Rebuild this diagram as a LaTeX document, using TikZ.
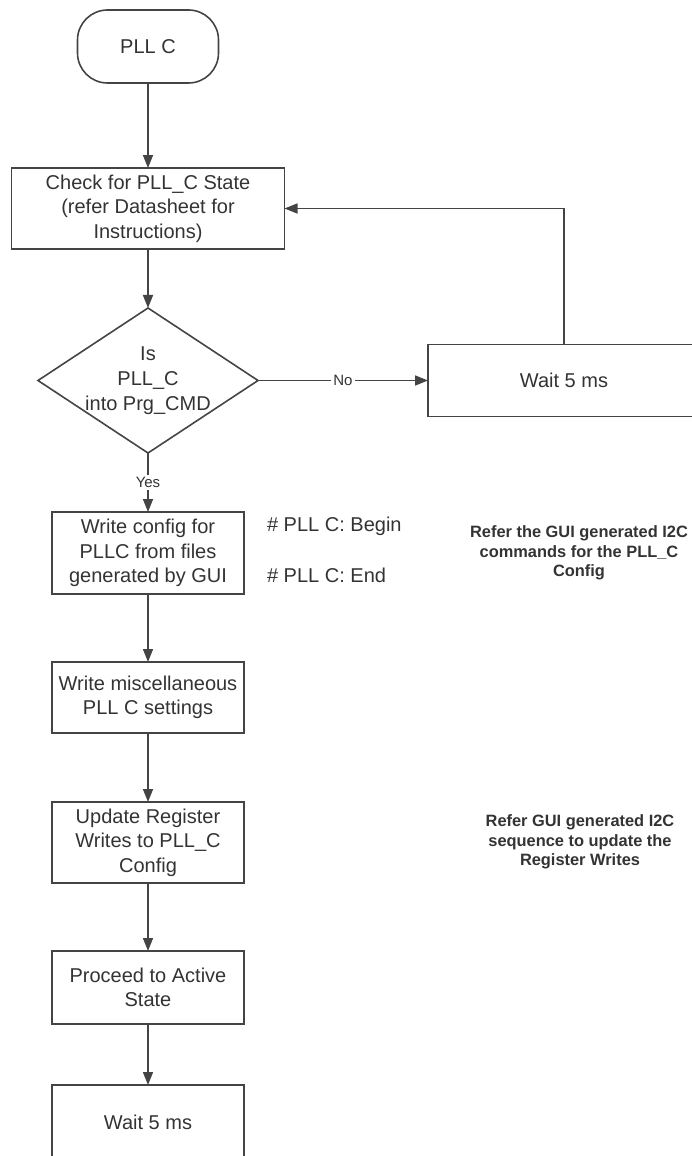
\documentclass[tikz,border=0pt]{standalone}
\usepackage{fontspec}
\setmainfont{Liberation Sans}
\usetikzlibrary{arrows.meta,positioning,shapes.geometric}
\definecolor{LineGray}{RGB}{68,68,68}
\definecolor{TextGray}{RGB}{51,51,51}

\begin{document}
\begin{tikzpicture}[x=0.5pt,y=-0.5pt,>={Triangle[length=6.5pt,width=5pt]},
  every node/.style={text=TextGray},
  flow/.style={draw=LineGray,line width=0.8pt,align=center,font=\fontsize{10}{12.3}\selectfont,inner sep=0pt,outer sep=0pt},
  procbox/.style={flow,minimum width=96pt},
  link/.style={->,draw=LineGray,line width=0.8pt},
  tag/.style={font=\fontsize{7.5}{9}\selectfont,fill=white,inner sep=1pt},
  remark/.style={align=center,font=\fontsize{8.2}{9.75}\selectfont\bfseries}]
  \useasboundingbox (0,0) rectangle (691,1156);
  \node[flow,rounded corners=15pt,minimum width=70.5pt,minimum height=36.5pt] (start) at (148,46.5) {PLL C};
  \node[flow,minimum width=136.5pt,minimum height=40.5pt,below=42.5pt of start] (check) {Check for PLL\_C State\\(refer Datasheet for\\Instructions)};
  \node[flow,diamond,minimum width=110pt,minimum height=72.5pt,below=29.5pt of check] (isc) {};
  \node[align=center,font=\fontsize{10}{12.5}\selectfont] (isctext) at (isc) {Is\\PLL\_C\\into Prg\_CMD};
  \node[flow,minimum width=136pt,minimum height=36pt,right=85pt of isc] (wait1) {Wait 5 ms};
  \node[procbox,minimum height=41pt,below=29.5pt of isc] (write) {Write config for\\PLLC from files\\generated by GUI};
  \node[procbox,minimum height=35.5pt,below=34pt of write] (misc) {Write miscellaneous\\PLL C settings};
  \node[procbox,minimum height=40.5pt,below=34.5pt of misc] (update) {Update Register\\Writes to PLL\_C\\Config};
  \node[procbox,minimum height=36.5pt,below=34pt of update] (proceed) {Proceed to Active\\State};
  \node[procbox,minimum height=37pt,below=30.5pt of proceed] (wait2) {Wait 5 ms};
  % notes beside the flow
  \node[anchor=west,font=\fontsize{10}{12}\selectfont] (cbegin) at (260,526) {\# PLL C: Begin};
  \node[anchor=west,font=\fontsize{10}{12}\selectfont] (cend) at (260,575) {\# PLL C: End};
  \node[remark] (gui1) at (579,553) {Refer the GUI generated I2C\\commands for the PLL\_C\\Config};
  \node[remark] (gui2) at (580,842) {Refer GUI generated I2C\\sequence to update the\\Register Writes};
  \draw[link] (start) -- (check);
  \draw[link] (check) -- (isc);
  \draw[link] (isc) -- node[tag] {No} (wait1);
  \draw[link] (wait1.north) |- (check.east);
  \draw[link] (isc) -- node[tag] {Yes} (write);
  \draw[link] (write) -- (misc);
  \draw[link] (misc) -- (update);
  \draw[link] (update) -- (proceed);
  \draw[link] (proceed) -- (wait2);
\end{tikzpicture}
\end{document}
